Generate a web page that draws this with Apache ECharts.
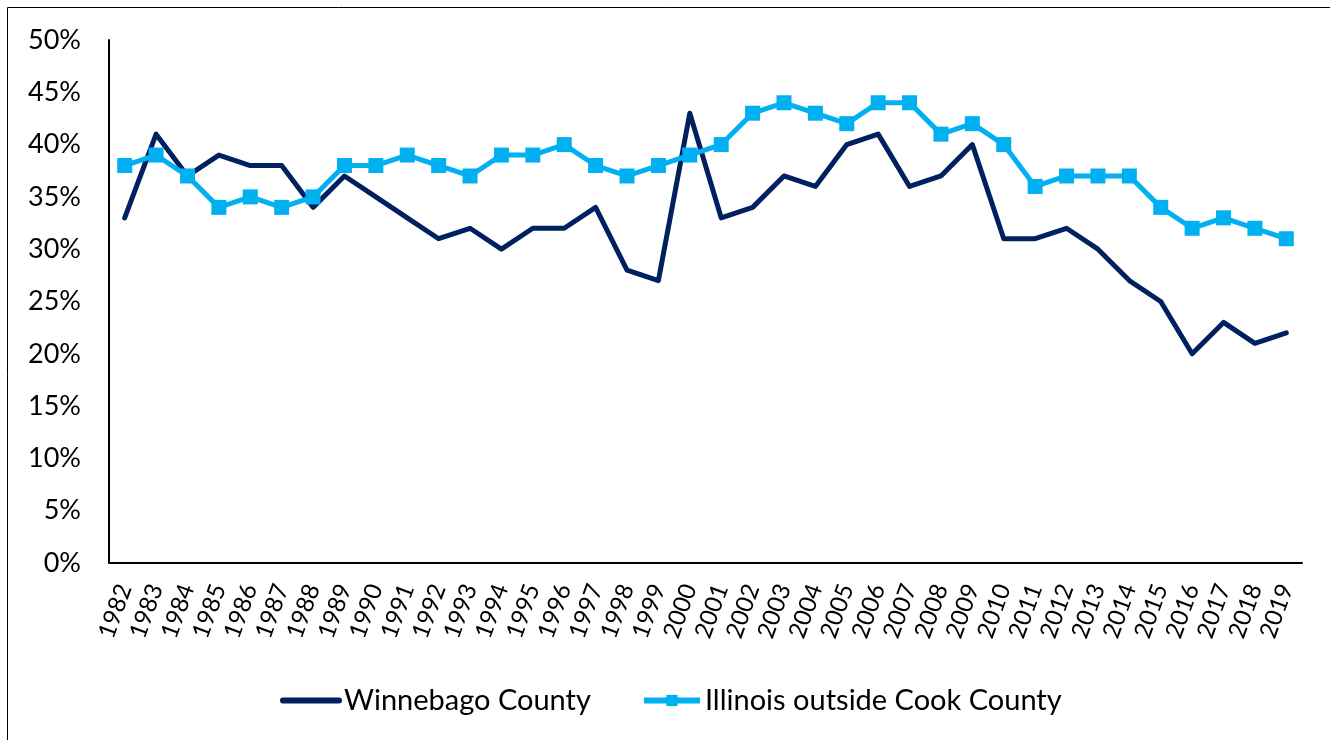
<!DOCTYPE html>
<html>
<head>
<meta charset="utf-8">
<script src="https://cdn.jsdelivr.net/npm/echarts@6/dist/echarts.min.js"></script>
<style>
  html, body { margin: 0; padding: 0; background: #fff; }
  #chart { width: 1330px; height: 740px; }
</style>
</head>
<body>
<div id="chart"></div>
<script>
const years = ['1982','1983','1984','1985','1986','1987','1988','1989','1990','1991','1992','1993','1994','1995','1996','1997','1998','1999','2000','2001','2002','2003','2004','2005','2006','2007','2008','2009','2010','2011','2012','2013','2014','2015','2016','2017','2018','2019']
const winnebago = [33,41,37,39,38,38,34,37,35,33,31,32,30,32,32,34,28,27,43,33,34,37,36,40,41,36,37,40,31,31,32,30,27,25,20,23,21,22]
const illinois = [38,39,37,34,35,34,35,38,38,39,38,37,39,39,40,38,37,38,39,40,43,44,43,42,44,44,41,42,40,36,37,37,37,34,32,33,32,31]

const font = 'Lato, "Open Sans", sans-serif'

let dom = echarts.init(document.getElementById('chart'))
let option = {
  backgroundColor: '#fff',
  animation: false,
  graphic: [{
    type: 'rect',
    shape: { x: 7.5, y: 7.5, width: 1340, height: 760 },
    style: { fill: 'none', stroke: '#000', lineWidth: 1 },
    silent: true
  }],
  grid: {
    left: 109,
    right: 28,
    top: 40,
    bottom: 177
  },
  legend: {
    bottom: 20,
    left: 275,
    itemWidth: 56,
    itemHeight: 14,
    itemGap: 50,
    textStyle: { fontFamily: font, fontSize: 29, color: '#000' },
    data: [
      { name: 'Winnebago County', lineStyle: { width: 6 }, itemStyle: { opacity: 0 } },
      { name: 'Illinois outside Cook County', lineStyle: { width: 6 } }
    ]
  },
  xAxis: {
    type: 'category',
    boundaryGap: true,
    data: years,
    axisLine: { lineStyle: { color: '#000', width: 2 } },
    axisTick: { show: false },
    splitLine: { show: false },
    axisLabel: {
      rotate: 70,
      interval: 0,
      margin: 22,
      fontFamily: font,
      fontSize: 24,
      color: '#000'
    }
  },
  yAxis: {
    type: 'value',
    min: 0,
    max: 50,
    interval: 5,
    axisLine: { show: true, lineStyle: { color: '#000', width: 2 } },
    axisTick: { show: false },
    splitLine: { show: false },
    axisLabel: {
      formatter: '{value}%',
      margin: 28,
      fontFamily: font,
      fontSize: 27,
      color: '#000'
    }
  },
  series: [
    {
      name: 'Winnebago County',
      type: 'line',
      data: winnebago,
      symbol: 'none',
      color: '#002060',
      lineStyle: { color: '#002060', width: 5, cap: 'round', join: 'round' }
    },
    {
      name: 'Illinois outside Cook County',
      type: 'line',
      data: illinois,
      symbol: 'rect',
      symbolSize: 15,
      color: '#00B0F0',
      itemStyle: { color: '#00B0F0' },
      lineStyle: { color: '#00B0F0', width: 5 }
    }
  ]
}
dom.setOption(option)
window.addEventListener('resize', dom.resize)
</script>
</body>
</html>
